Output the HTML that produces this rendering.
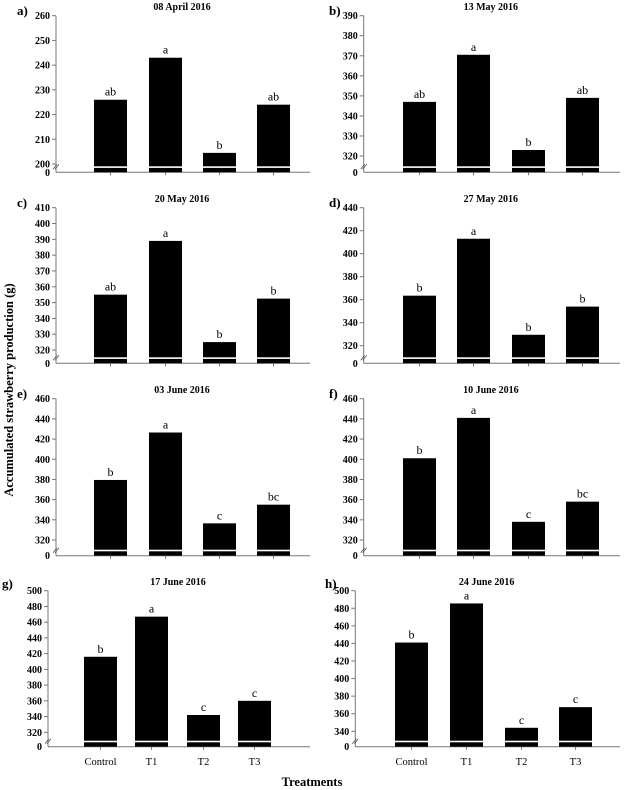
<!DOCTYPE html>
<html><head><meta charset="utf-8">
<style>
html,body{margin:0;padding:0;background:#fff;}
svg{display:block;font-family:"Liberation Serif",serif;}
</style></head>
<body>
<svg id="chart" width="624" height="790" viewBox="0 0 624 790" xmlns="http://www.w3.org/2000/svg">
<text x="0" y="0" transform="translate(13,390) rotate(-90)" text-anchor="middle" font-size="12.5" font-weight="bold">Accumulated strawberry production (g)</text>
<text x="312" y="786" text-anchor="middle" font-size="12.5" font-weight="bold">Treatments</text>
</svg>
<script>
const categories = ["Control","T1","T2","T3"];
const panelLabels = ["a)","b)","c)","d)","e)","f)","g)","h)"];
const panelTitles = ["08 April 2016","13 May 2016","20 May 2016","27 May 2016","03 June 2016","10 June 2016","17 June 2016","24 June 2016"];
const valuesA = [226, 243, 204.5, 224];
const valuesB = [347, 370.5, 323, 349];
const valuesC = [355, 389, 325, 352.5];
const valuesD = [363.5, 413, 329.5, 354];
const valuesE = [379.5, 426.5, 336.5, 355];
const valuesF = [401, 441, 338, 358];
const valuesG = [416, 467, 342, 360];
const valuesH = [441, 485.5, 344, 367.5];
const lettersA = ["ab","a","b","ab"];
const lettersB = ["ab","a","b","ab"];
const lettersC = ["ab","a","b","b"];
const lettersD = ["b","a","b","b"];
const lettersE = ["b","a","c","bc"];
const lettersF = ["b","a","c","bc"];
const lettersG = ["b","a","c","c"];
const lettersH = ["b","a","c","c"];
const tickMin = [200,320,320,320,320,320,320,340];
const tickMax = [260,390,410,440,460,460,500,500];
const tickStep = [10,10,10,20,20,20,20,20];

const allValues=[valuesA,valuesB,valuesC,valuesD,valuesE,valuesF,valuesG,valuesH];
const allLetters=[lettersA,lettersB,lettersC,lettersD,lettersE,lettersF,lettersG,lettersH];
const layout=[
 {ax:56,top:15.7,bot:164,zero:172.3,bx:[94,149,203,257],end:312,ty:10,lx:17,ly:15},
 {ax:363.7,top:15.7,bot:156,zero:172.3,bx:[403,457,512,566],end:622,ty:10,lx:329,ly:15},
 {ax:56,top:207.7,bot:350,zero:363.3,bx:[94,149,203,257],end:312,ty:202,lx:17,ly:207},
 {ax:363.7,top:207.7,bot:345.7,zero:363.3,bx:[403,457,512,566],end:622,ty:202,lx:329,ly:207},
 {ax:56,top:398.7,bot:540,zero:555.7,bx:[94,149,203,257],end:312,ty:393,lx:17,ly:398},
 {ax:363.7,top:398.7,bot:540,zero:555.7,bx:[403,457,512,566],end:622,ty:393,lx:329,ly:398},
 {ax:48,top:590.7,bot:732.3,zero:746.7,bx:[84,135,187,238],end:312,ty:585,lx:2,ly:588},
 {ax:355.3,top:590.7,bot:731.3,zero:746.7,bx:[395,450,505,559],end:622,ty:585,lx:325,ly:588}
];
const NS="http://www.w3.org/2000/svg";
const svg=document.getElementById('chart');
function mk(tag,attrs,parent){const e=document.createElementNS(NS,tag);for(const k in attrs)e.setAttribute(k,attrs[k]);(parent||svg).appendChild(e);return e;}
const BW=33;
for(let p=0;p<8;p++){
  const L=layout[p];
  const g=mk('g',{});
  
  
  const y=v=>L.bot-(v-tickMin[p])/(tickMax[p]-tickMin[p])*(L.bot-L.top);
  const t=mk('text',{x:(L.ax+L.end)/2-2,y:L.ty,'text-anchor':'middle','font-size':'10','font-weight':'bold'},g);
  t.textContent=panelTitles[p];
  
  
  const pl=mk('text',{x:L.lx,y:L.ly,'font-size':'13','font-weight':'bold'},g);
  pl.textContent=panelLabels[p];
  
  
  const ya=mk('line',{x1:L.ax,y1:L.top,x2:L.ax,y2:L.zero,stroke:'#777','stroke-width':'1'},g);
  
  
  const xa=mk('line',{x1:L.ax,y1:L.zero,x2:L.end-2,y2:L.zero,stroke:'#777','stroke-width':'1'},g);
  
  
  for(let v=tickMin[p];v<=tickMax[p]+0.01;v+=tickStep[p]){
    const yy=y(v);
    mk('line',{x1:L.ax-4,y1:yy,x2:L.ax,y2:yy,stroke:'#777'},g);
    const tl=mk('text',{x:L.ax-6,y:yy+3.5,'text-anchor':'end','font-size':'10','font-weight':'bold'},g);
    tl.textContent=v;
    
    
  }
  const zl=mk('text',{x:L.ax-6,y:L.zero+3.5,'text-anchor':'end','font-size':'10','font-weight':'bold'},g);
  zl.textContent='0';
  
  
  mk('path',{d:`M${L.ax-3},${L.zero-3} L${L.ax+1},${L.zero-8} M${L.ax-1},${L.zero-3} L${L.ax+3},${L.zero-8}`,stroke:'#555','stroke-width':'0.8',fill:'none'},g);
  for(let i=0;i<categories.length;i++){
    const v=allValues[p][i];
    const x0=L.bx[i];
    const by=y(v);
    const r=mk('rect',{x:x0,y:by,width:BW,height:L.zero-by,fill:'#000'},g);
    
    
    mk('rect',{x:x0,y:L.zero-6,width:BW,height:1.6,fill:'#fff'},g);
    mk('line',{x1:x0+BW/2,y1:L.zero,x2:x0+BW/2,y2:L.zero+3,stroke:'#777'},g);
    const lt=mk('text',{x:x0+BW/2,y:by-4,'text-anchor':'middle','font-size':'12'},g);
    lt.textContent=allLetters[p][i];
    
    
    if(p>=6){
      const cl=mk('text',{x:x0+BW/2,y:765,'text-anchor':'middle','font-size':'10.5'},g);
      cl.textContent=categories[i];
      
      
    }
  }
}
</script>
</body></html>
